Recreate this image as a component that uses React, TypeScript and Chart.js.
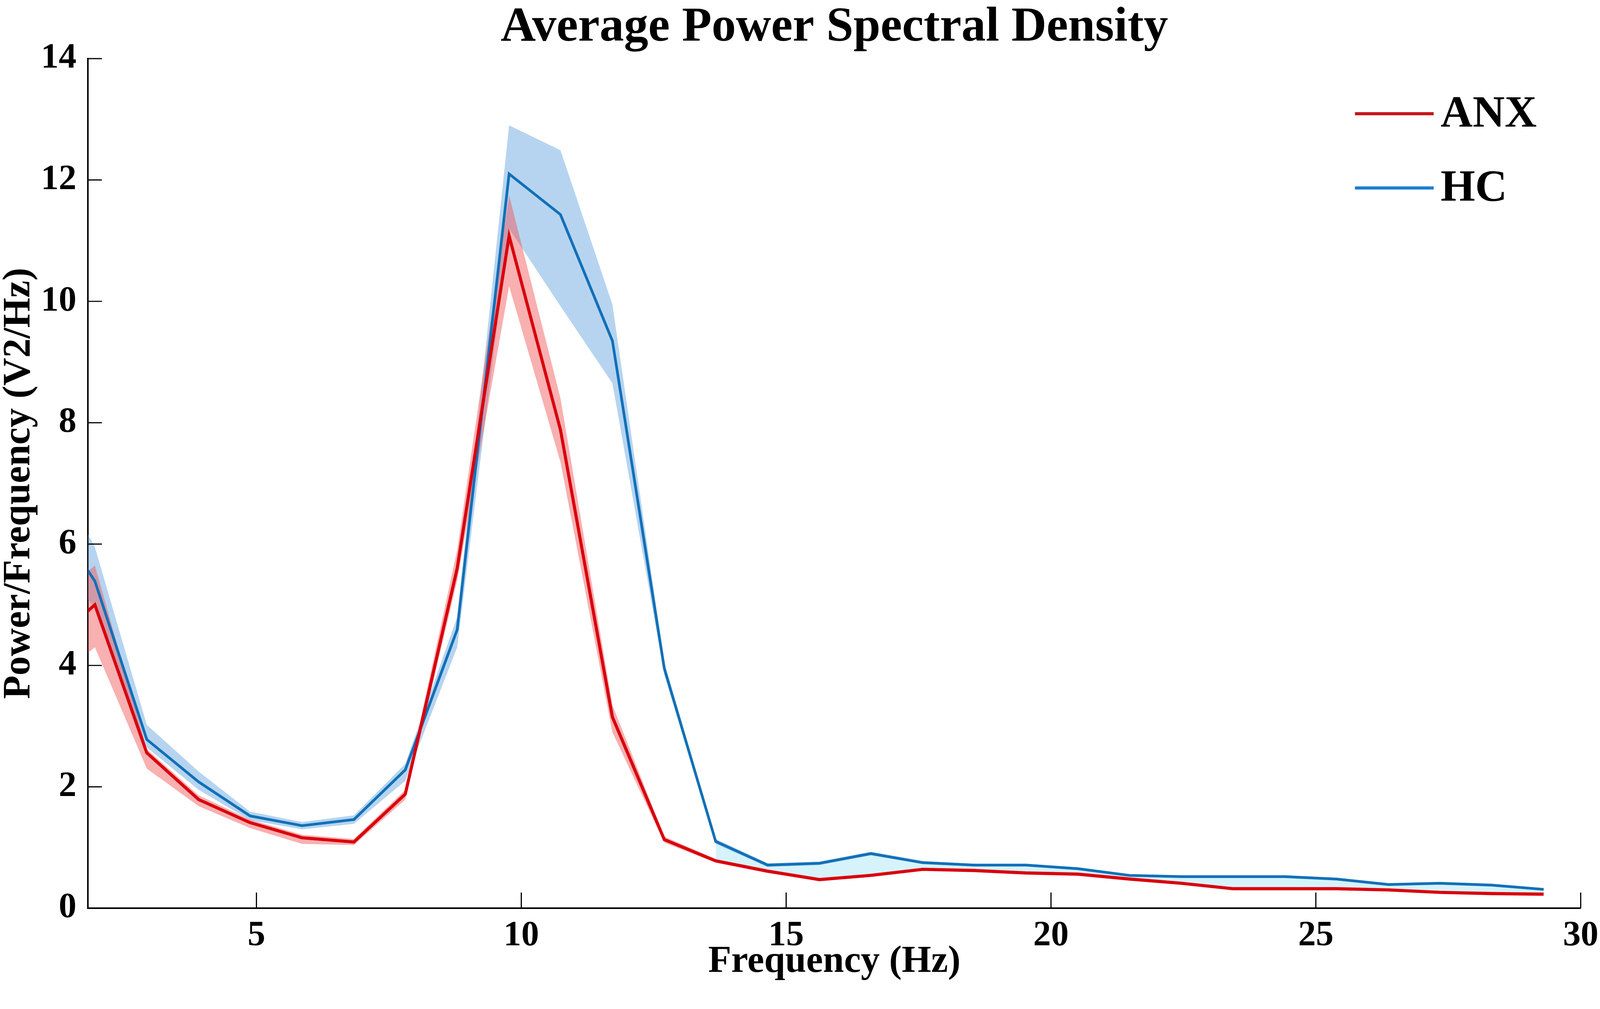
import React, { useEffect, useRef } from "react";
import Chart from "chart.js/auto";

// frequency bins (Hz), ~0.977 Hz resolution
const frequencies = [
  0.98, 1.95, 2.93, 3.91, 4.88, 5.86, 6.84, 7.81, 8.79, 9.77, 10.74, 11.72, 12.7, 13.67, 14.65,
  15.63, 16.6, 17.58, 18.55, 19.53, 20.51, 21.48, 22.46, 23.44, 24.41, 25.39, 26.37, 27.34, 28.32, 29.3,
];

const hcMean = [
  6.67, 5.39, 2.78, 2.08, 1.52, 1.36, 1.46, 2.28, 4.59, 12.1, 11.43, 9.35, 3.95, 1.1, 0.71,
  0.74, 0.9, 0.75, 0.71, 0.71, 0.65, 0.54, 0.52, 0.52, 0.52, 0.48, 0.39, 0.41, 0.38, 0.31,
];
const hcLower = [
  6.0, 4.95, 2.65, 1.95, 1.45, 1.3, 1.39, 2.1, 4.3, 11.2, 9.92, 8.65, 3.85, 1.06, 0.68,
  0.71, 0.87, 0.73, 0.69, 0.69, 0.63, 0.52, 0.5, 0.5, 0.5, 0.46, 0.37, 0.39, 0.36, 0.29,
];
const hcUpper = [
  7.5, 5.95, 3.02, 2.25, 1.59, 1.42, 1.53, 2.38, 4.8, 12.9, 12.49, 9.95, 4.05, 1.14, 0.74,
  0.77, 0.93, 0.78, 0.73, 0.73, 0.67, 0.56, 0.54, 0.54, 0.54, 0.5, 0.41, 0.43, 0.4, 0.33,
];

const anxMean = [
  4.25, 5.0, 2.56, 1.79, 1.41, 1.16, 1.09, 1.88, 5.6, 11.08, 7.88, 3.15, 1.13, 0.78, 0.61,
  0.47, 0.54, 0.64, 0.62, 0.58, 0.56, 0.48, 0.41, 0.32, 0.32, 0.32, 0.3, 0.26, 0.24, 0.23,
];
const anxLower = [
  3.6, 4.3, 2.3, 1.68, 1.32, 1.06, 1.04, 1.79, 5.4, 10.25, 7.35, 2.9, 1.08, 0.75, 0.58,
  0.45, 0.52, 0.62, 0.6, 0.56, 0.54, 0.46, 0.39, 0.3, 0.3, 0.3, 0.28, 0.24, 0.22, 0.21,
];
const anxUpper = [
  4.9, 5.65, 2.62, 1.86, 1.46, 1.21, 1.14, 1.95, 5.9, 11.75, 8.4, 3.35, 1.18, 0.81, 0.64,
  0.5, 0.57, 0.67, 0.65, 0.61, 0.59, 0.51, 0.44, 0.35, 0.35, 0.35, 0.33, 0.29, 0.27, 0.26,
];

const xTicks = [5, 10, 15, 20, 25, 30];
const yTicks = [0, 2, 4, 6, 8, 10, 12, 14];
const seriesNames = ["ANX", "HC"];
const lineColors = ["#d9000d", "#1170b8"];
const legendColors = ["#c5161d", "#1b7fd3"];
const tailStart = 13.67; // pale fill between the two curves from here on

const FONT = '"Liberation Serif", "Times New Roman", serif';

const toPoints = (values: number[]) => frequencies.map((f, i) => ({ x: f, y: values[i] }));

export default function App() {
  const canvasRef = useRef<HTMLCanvasElement | null>(null);
  const chartRef = useRef<Chart | null>(null);

  useEffect(() => {
    const canvas = canvasRef.current;
    if (!canvas) return;
    if (chartRef.current) chartRef.current.destroy();

    // layout was measured on a 4146x2582 picture; scale to the real viewport
    const sx = window.innerWidth / 4146;
    const sy = window.innerHeight / 2582;

    const inwardTicks = {
      id: "inwardTicks",
      afterDraw(chart: any) {
        const { ctx, chartArea, scales } = chart;
        ctx.save();
        ctx.strokeStyle = "#000";
        ctx.lineWidth = 3 * sx;
        ctx.beginPath();
        xTicks.forEach((v) => {
          const px = scales.x.getPixelForValue(v);
          ctx.moveTo(px, chartArea.bottom);
          ctx.lineTo(px, chartArea.bottom - 40 * sy);
        });
        yTicks.forEach((v) => {
          const py = scales.y.getPixelForValue(v);
          ctx.moveTo(chartArea.left, py);
          ctx.lineTo(chartArea.left + 36 * sx, py);
        });
        ctx.stroke();
        ctx.restore();
      },
    };

    const insideLegend = {
      id: "insideLegend",
      afterDraw(chart: any) {
        const { ctx, chartArea } = chart;
        const x0 = chartArea.right - 585 * sx;
        const x1 = chartArea.right - 381 * sx;
        ctx.save();
        ctx.font = `bold ${115 * sx}px ${FONT}`;
        ctx.textBaseline = "middle";
        ctx.fillStyle = "#000";
        seriesNames.forEach((name, i) => {
          const y = chartArea.top + (141 + i * 190) * sy;
          ctx.strokeStyle = legendColors[i];
          ctx.lineWidth = 8 * sy;
          ctx.beginPath();
          ctx.moveTo(x0, y);
          ctx.lineTo(x1, y);
          ctx.stroke();
          ctx.fillText(name, x1 + 18 * sx, y + 4 * sy);
        });
        ctx.restore();
      },
    };

    const band = (color: string, fill: any, order: number, values: number[]) => ({
      data: toPoints(values),
      borderWidth: 0,
      pointRadius: 0,
      backgroundColor: color,
      fill,
      order,
      tension: 0,
    });

    chartRef.current = new Chart(canvas, {
      type: "line",
      data: {
        datasets: [
          {
            label: seriesNames[0],
            data: toPoints(anxMean),
            borderColor: lineColors[0],
            borderWidth: 8 * sx,
            pointRadius: 0,
            fill: false,
            order: 0,
            tension: 0,
          },
          {
            label: seriesNames[1],
            data: toPoints(hcMean),
            borderColor: lineColors[1],
            borderWidth: 7 * sx,
            pointRadius: 0,
            fill: false,
            order: 1,
            tension: 0,
          },
          band("rgba(240, 80, 80, 0.45)", "+1", 2, anxUpper),
          band("rgba(0,0,0,0)", false, 3, anxLower),
          band("rgba(110, 170, 225, 0.5)", "+1", 4, hcUpper),
          band("rgba(0,0,0,0)", false, 5, hcLower),
          {
            data: frequencies.map((f, i) => ({ x: f, y: f >= tailStart ? hcMean[i] : null })),
            borderWidth: 0,
            pointRadius: 0,
            backgroundColor: "#d6f3fb",
            fill: { target: 0 },
            order: 6,
            spanGaps: false,
          },
        ] as any,
      },
      options: {
        animation: false,
        responsive: true,
        maintainAspectRatio: false,
        devicePixelRatio: 1,
        layout: { padding: { left: 0, right: 50 * sx, top: 0, bottom: 0 } },
        plugins: {
          legend: { display: false },
          tooltip: { enabled: false },
          title: {
            display: true,
            text: "Average Power Spectral Density",
            color: "#000",
            fullSize: false,
            font: { family: FONT, size: 126 * sx, weight: "bold", lineHeight: (144 * sy) / (126 * sx) },
            padding: { top: 0, bottom: 6 * sy },
          },
        },
        scales: {
          x: {
            type: "linear",
            min: 1.82,
            max: 30,
            afterBuildTicks: (s: any) => {
              s.ticks = xTicks.map((value) => ({ value }));
            },
            afterFit: (s: any) => {
              s.height = 258 * sy;
              s.paddingLeft = 0;
              s.paddingRight = 0;
            },
            grid: { display: false, drawTicks: false },
            border: { display: true, color: "#000", width: 4 * sy },
            ticks: {
              color: "#000",
              padding: 26 * sy,
              maxRotation: 0,
              autoSkip: false,
              font: { family: FONT, size: 92 * sx, weight: "bold", lineHeight: 1 },
            },
            title: {
              display: true,
              text: "Frequency (Hz)",
              color: "#000",
              font: { family: FONT, size: 98 * sx, weight: "bold", lineHeight: 1 },
              padding: { top: 0, bottom: 72 * sy },
            },
          },
          y: {
            type: "linear",
            min: 0,
            max: 14,
            afterBuildTicks: (s: any) => {
              s.ticks = yTicks.map((value) => ({ value }));
            },
            afterFit: (s: any) => {
              s.width = 228 * sx;
            },
            grid: { display: false, drawTicks: false },
            border: { display: true, color: "#000", width: 4 * sx },
            ticks: {
              color: "#000",
              padding: 30 * sx,
              autoSkip: false,
              font: { family: FONT, size: 92 * sx, weight: "bold" },
            },
            title: {
              display: true,
              text: "Power/Frequency (V2/Hz)",
              color: "#000",
              font: { family: FONT, size: 100 * sx, weight: "bold", lineHeight: 1 },
              padding: { top: 0, bottom: 0 },
            },
          },
        },
      },
      plugins: [inwardTicks, insideLegend],
    } as any);

    return () => {
      if (chartRef.current) {
        chartRef.current.destroy();
        chartRef.current = null;
      }
    };
  }, []);

  return (
    <div style={{ position: "fixed", left: 0, top: 0, width: "100vw", height: "100vh", background: "#fff" }}>
      <canvas ref={canvasRef} />
    </div>
  );
}
